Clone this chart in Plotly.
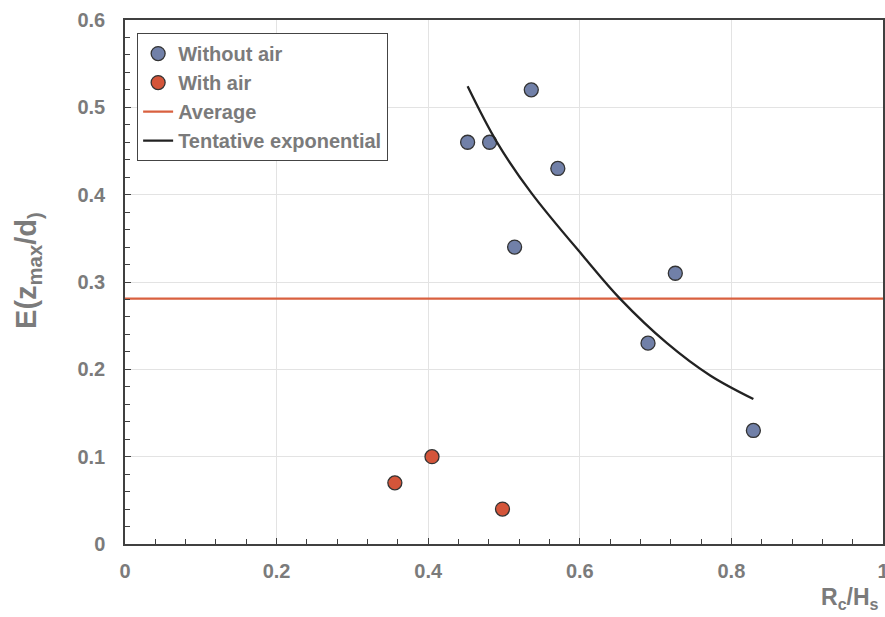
import plotly.graph_objects as go

# Data
without_air_x = [0.452, 0.481, 0.536, 0.571, 0.514, 0.726, 0.690, 0.829]
without_air_y = [0.46, 0.46, 0.52, 0.43, 0.34, 0.31, 0.23, 0.13]
with_air_x = [0.356, 0.405, 0.498]
with_air_y = [0.07, 0.10, 0.04]
average_value = 0.281
average_x = [0.0, 1.0]
curve_x = [0.452, 0.490, 0.536, 0.607, 0.653, 0.715, 0.772, 0.829]
curve_y = [0.524, 0.461, 0.402, 0.327, 0.281, 0.230, 0.193, 0.166]

x_ticks = [0, 0.2, 0.4, 0.6, 0.8, 1]
x_tick_text = ["0", "0.2", "0.4", "0.6", "0.8", "1"]
y_ticks = [0, 0.1, 0.2, 0.3, 0.4, 0.5, 0.6]
y_tick_text = ["0", "0.1", "0.2", "0.3", "0.4", "0.5", "0.6"]

GRAY = "#7b7b7b"
FONT = "Liberation Sans, Arial, sans-serif"

fig = go.Figure()
fig.add_trace(go.Scatter(
    x=without_air_x, y=without_air_y, mode="markers", name="<b>Without air</b>",
    marker=dict(size=14, color="#7180a8", line=dict(color="#333333", width=1.3)),
))
fig.add_trace(go.Scatter(
    x=with_air_x, y=with_air_y, mode="markers", name="<b>With air</b>",
    marker=dict(size=14, color="#d4553a", line=dict(color="#333333", width=1.3)),
))
fig.add_trace(go.Scatter(
    x=average_x, y=[average_value] * len(average_x), mode="lines", name="<b>Average</b>",
    line=dict(color="#d9603f", width=2.2),
))
fig.add_trace(go.Scatter(
    x=curve_x, y=curve_y, mode="lines", name="<b>Tentative exponential</b>",
    line=dict(color="#222222", width=2.3, shape="spline", smoothing=1.0),
))

fig.update_layout(
    width=885, height=617,
    margin=dict(l=125, r=2, t=20, b=73, autoexpand=False),
    paper_bgcolor="white", plot_bgcolor="white",
    font=dict(family=FONT, color=GRAY, size=16),
    showlegend=True,
    legend=dict(
        x=0.016, y=0.975, xanchor="left", yanchor="top",
        bgcolor="white", bordercolor="#444444", borderwidth=1,
        font=dict(family=FONT, size=20, color=GRAY),
        tracegroupgap=0, itemwidth=30,
    ),
    xaxis=dict(
        range=[0, 1], tickvals=x_ticks, ticktext=["<b>%s</b>" % t for t in x_tick_text],
        showgrid=True, gridcolor="#e3e3e3", gridwidth=1,
        showline=True, linecolor="#404040", linewidth=1.5, mirror=True,
        ticks="inside", ticklen=6, tickcolor="#404040",
        minor=dict(dtick=0.04, ticks="inside", ticklen=5, tickcolor="#404040", showgrid=False),
        zeroline=False, ticklabelstandoff=8, ticklabeloverflow="allow", automargin=False,
        tickfont=dict(family=FONT, size=20, color=GRAY),
    ),
    yaxis=dict(
        range=[0, 0.6], tickvals=y_ticks, ticktext=["<b>%s</b>" % t for t in y_tick_text],
        showgrid=True, gridcolor="#e3e3e3", gridwidth=1,
        showline=True, linecolor="#404040", linewidth=1.5, mirror=True,
        ticks="inside", ticklen=6, tickcolor="#404040",
        minor=dict(dtick=0.02, ticks="inside", ticklen=5, tickcolor="#404040", showgrid=False),
        zeroline=False, ticklabelstandoff=14, ticklabeloverflow="allow", automargin=False,
        tickfont=dict(family=FONT, size=20, color=GRAY),
    ),
    annotations=[
        dict(
            text="<b>E(z<sub>max</sub>/d<sub>)</sub></b>", xref="paper", yref="paper",
            x=-0.128, y=0.523, xanchor="center", yanchor="middle", textangle=-90,
            showarrow=False, font=dict(family=FONT, size=29, color=GRAY),
        ),
        dict(
            text="<b>R<sub>c</sub>/H<sub>s</sub></b>", xref="paper", yref="paper",
            x=0.997, y=-0.072, xanchor="right", yanchor="top", showarrow=False,
            font=dict(family=FONT, size=23, color=GRAY),
        ),
    ],
)

fig.write_html("out.html")
